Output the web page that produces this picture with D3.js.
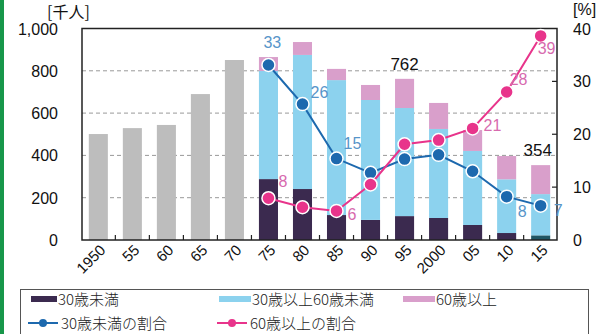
<!DOCTYPE html>
<html>
<head>
<meta charset="utf-8">
<script src="https://cdn.jsdelivr.net/npm/d3@7"></script>
<style>
  body { margin: 0; background: #fff; }
  svg text { font-family: "Liberation Sans", Arial, "Noto Sans CJK JP", sans-serif; }
  .jp text, text.jp { font-family: "Noto Sans CJK JP", sans-serif; }
</style>
</head>
<body>
<svg id="chart" width="612" height="334"></svg>
<script>
// data
var years = ["1950", "55", "60", "65", "70", "75", "80", "85", "90", "95", "2000", "05", "10", "15"];
var oldTotal = [501, 529, 544, 690, 851, null, null, null, null, null, null, null, null, null];
var under30 = [null, null, null, null, null, 288, 241, 118, 95, 113, 104, 71, 33, 22];
var age30to60 = [null, null, null, null, null, 511, 634, 638, 567, 511, 421, 350, 254, 195];
var over60 = [null, null, null, null, null, 66, 61, 53, 71, 138, 123, 99, 110, 137];
var shareUnder30 = [null, null, null, null, null, 33.1, 25.7, 15.4, 12.7, 15.3, 16.1, 13.0, 8.2, 6.5];
var shareOver60 = [null, null, null, null, null, 7.9, 6.2, 5.5, 10.5, 18.1, 18.9, 21.1, 28.0, 38.6];
var leftTicks = [0, 200, 400, 600, 800, 1000];
var rightTicks = [0, 10, 20, 30, 40];

var svg = d3.select("#chart");
var x0 = 82, x1 = 557, yTop = 28.5, yBot = 240;

var x = d3.scaleBand().domain(years).range([x0, x1]).paddingInner(0.44).paddingOuter(0.2);
var y = d3.scaleLinear().domain([0, 1000]).range([yBot, yTop]);
var y2 = d3.scaleLinear().domain([0, 40]).range([yBot, yTop]);

// green strip on the left edge
svg.append("rect").attr("x", 0).attr("y", 0).attr("width", 4).attr("height", 334).attr("fill", "#17974a");

// gridlines
svg.append("g").selectAll("line")
  .data([200, 400, 600, 800])
  .enter().append("line")
    .attr("x1", x0).attr("x2", x1)
    .attr("y1", d => y(d)).attr("y2", d => y(d))
    .attr("stroke", "#999").attr("stroke-dasharray", "4,3").attr("stroke-width", 1);

// bars before 1975
svg.append("g").selectAll("rect")
  .data(years.filter((d, i) => oldTotal[i] != null))
  .enter().append("rect")
    .attr("x", d => x(d))
    .attr("width", x.bandwidth())
    .attr("y", d => y(oldTotal[years.indexOf(d)]))
    .attr("height", d => yBot - y(oldTotal[years.indexOf(d)]))
    .attr("fill", "#bdbdbd");

// stacked bars from 1975
var rows = years.map((d, i) => ({year: d, a: under30[i], b: age30to60[i], c: over60[i]}))
  .filter(r => r.a != null);
var stack = d3.stack().keys(["a", "b", "c"])(rows);
var colors = {a: "#3b2a4f", b: "#8cd2ee", c: "#d99fcb"};
svg.append("g").selectAll("g")
  .data(stack)
  .enter().append("g")
    .attr("fill", s => colors[s.key])
  .selectAll("rect")
  .data(s => s)
  .enter().append("rect")
    .attr("x", d => x(d.data.year))
    .attr("width", x.bandwidth())
    .attr("y", d => y(d[1]))
    .attr("height", d => y(d[0]) - y(d[1]))
    // the 2015 bottom segment is printed in a dark teal in the original
    .attr("fill", (d, i, n) => (d.data.year == "15" && d[0] == 0) ? "#1f5664" : null);

// plot frame
svg.append("rect").attr("x", x0).attr("y", yTop).attr("width", x1 - x0).attr("height", yBot - yTop)
  .attr("fill", "none").attr("stroke", "#222").attr("stroke-width", 1.5);

// small ticks between categories on the bottom axis
var step = x.step();
svg.append("g").selectAll("line")
  .data(years.slice(1))
  .enter().append("line")
    .attr("x1", d => x(d) - step * 0.22).attr("x2", d => x(d) - step * 0.22)
    .attr("y1", yBot).attr("y2", yBot - 5)
    .attr("stroke", "#222").attr("stroke-width", 1.2);

// right axis inner ticks
svg.append("g").selectAll("line")
  .data([10, 20, 30])
  .enter().append("line")
    .attr("x1", x1).attr("x2", x1 - 5)
    .attr("y1", d => y2(d)).attr("y2", d => y2(d))
    .attr("stroke", "#222").attr("stroke-width", 1.2);

// axis labels
svg.append("g").selectAll("text")
  .data(leftTicks)
  .enter().append("text")
    .attr("x", 58).attr("y", d => y(d) + 6)
    .attr("text-anchor", "end").attr("font-size", 16).attr("fill", "#111")
    .text(d => d3.format(",")(d));
svg.append("g").selectAll("text")
  .data(rightTicks)
  .enter().append("text")
    .attr("x", 573).attr("y", d => y2(d) + 6)
    .attr("font-size", 16).attr("fill", "#111")
    .text(d => d);
svg.append("g").selectAll("text")
  .data(years)
  .enter().append("text")
    .attr("transform", d => "translate(" + (x(d) + x.bandwidth() / 2 + 8) + "," + 251 + ") rotate(-45)")
    .attr("text-anchor", "end").attr("font-size", 15).attr("fill", "#111")
    .text(d => d);

svg.append("text").attr("class", "jp").attr("x", 47).attr("y", 18).attr("font-size", 16).attr("fill", "#111").text("[千人]");
svg.append("text").attr("x", 573).attr("y", 15).attr("font-size", 16).attr("fill", "#111").text("[%]");

// lines
var blue = "#1d69ae", pink = "#e8348b";
function drawLine(vals, color) {
  var pts = years.map((d, i) => ({year: d, v: vals[i]})).filter(p => p.v != null);
  var line = d3.line().x(p => x(p.year) + x.bandwidth() / 2).y(p => y2(p.v));
  svg.append("path").datum(pts).attr("d", line)
    .attr("fill", "none").attr("stroke", color).attr("stroke-width", 2);
  svg.append("g").selectAll("circle")
    .data(pts)
    .enter().append("circle")
      .attr("cx", p => x(p.year) + x.bandwidth() / 2)
      .attr("cy", p => y2(p.v))
      .attr("r", 6.5)
      .attr("fill", color).attr("stroke", "#fff").attr("stroke-width", 1.5);
}
drawLine(shareUnder30, blue);
drawLine(shareOver60, pink);

// value labels on the lines: [year, value text, dx, dy]
var blueLabels = [["75", "33", -5, -17], ["80", "26", 8, -6], ["85", "15", 7, -10], ["10", "8", 11, 20], ["15", "7", 13, 10]];
var pinkLabels = [["75", "8", 10, -11], ["85", "6", 11, 9], ["05", "21", 11, 3], ["10", "28", 3, -7], ["15", "39", -3, 18]];
function drawLabels(list, vals, color) {
  svg.append("g").selectAll("text")
    .data(list)
    .enter().append("text")
      .attr("x", d => x(d[0]) + x.bandwidth() / 2 + d[2])
      .attr("y", d => y2(vals[years.indexOf(d[0])]) + d[3])
      .attr("font-size", 16).attr("fill", color)
      .text(d => d[1]);
}
drawLabels(blueLabels, shareUnder30, "#5795c9");
drawLabels(pinkLabels, shareOver60, "#d76aae");

// total labels
[["95", 762], ["15", 354]].forEach(function(t) {
  var i = years.indexOf(t[0]);
  var total = under30[i] + age30to60[i] + over60[i];
  svg.append("text")
    .attr("x", x(t[0]) + x.bandwidth() / 2 - (t[0] == "15" ? 3 : 0))
    .attr("y", y(total) - 9)
    .attr("text-anchor", "middle").attr("font-size", 17).attr("fill", "#111")
    .text(t[1]);
});

// legend
var lg = svg.append("g").attr("class", "jp");
lg.append("rect").attr("x", 20.5).attr("y", 289.5).attr("width", 568).attr("height", 60)
  .attr("fill", "#fff").attr("stroke", "#555").attr("stroke-width", 1);
var boxItems = [["30歳未満", colors.a, 31, 26], ["30歳以上60歳未満", colors.b, 219, 32], ["60歳以上", colors.c, 403, 32]];
boxItems.forEach(function(it) {
  lg.append("rect").attr("x", it[2]).attr("y", 296).attr("width", it[3]).attr("height", 6).attr("fill", it[1]);
  lg.append("text").attr("x", it[2] + it[3] + 1).attr("y", 305).attr("font-size", 15).attr("font-weight", 300)
    .attr("fill", "#222").text(it[0]);
});
var lineItems = [["30歳未満の割合", blue, 28], ["60歳以上の割合", pink, 217]];
lineItems.forEach(function(it) {
  lg.append("line").attr("x1", it[2]).attr("x2", it[2] + 30).attr("y1", 323).attr("y2", 323)
    .attr("stroke", it[1]).attr("stroke-width", 2);
  lg.append("circle").attr("cx", it[2] + 15).attr("cy", 323).attr("r", 4).attr("fill", it[1]);
  lg.append("text").attr("x", it[2] + 33).attr("y", 329).attr("font-size", 15).attr("font-weight", 300)
    .attr("fill", "#222").text(it[0]);
});
</script>
</body>
</html>
